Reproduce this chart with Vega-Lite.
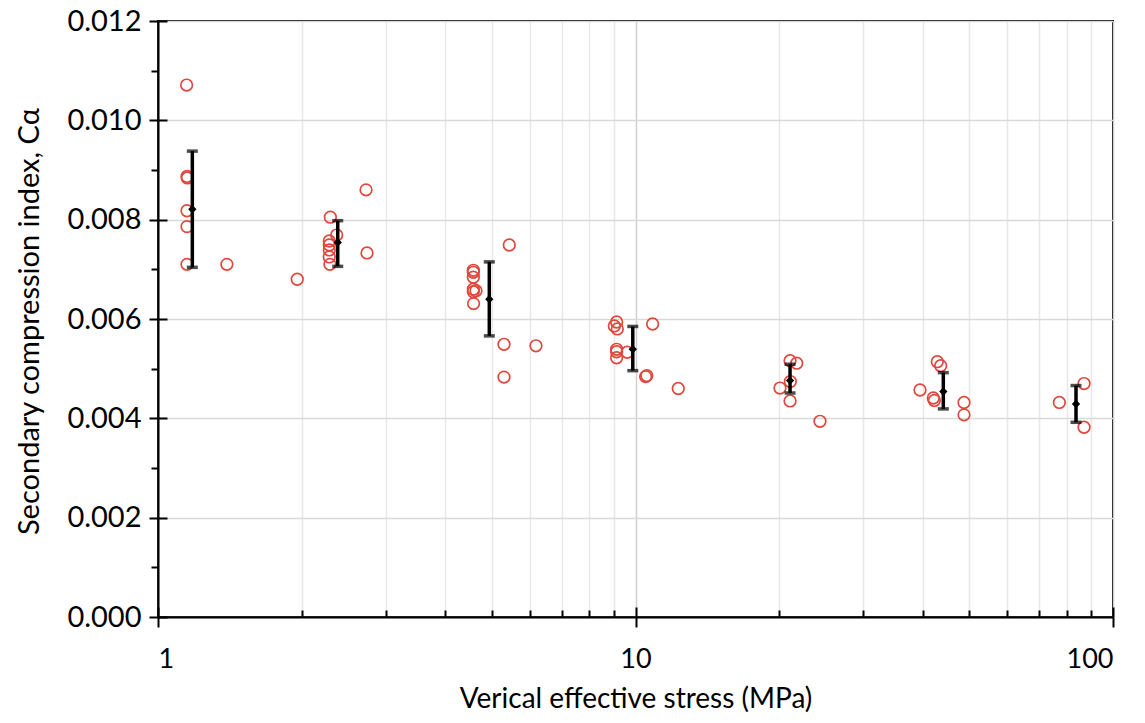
{
  "$schema": "https://vega.github.io/schema/vega-lite/v6.json",
  "width": 955,
  "height": 596,
  "autosize": {"type": "none"},
  "padding": {"left": 158, "top": 21, "right": 32, "bottom": 106},
  "background": "white",
  "config": {
    "view": {"stroke": "black", "strokeWidth": 2},
    "axis": {
      "labelFont": "Lato",
      "titleFont": "Lato",
      "labelColor": "black",
      "titleColor": "black",
      "titleFontWeight": "normal",
      "domainColor": "black",
      "tickColor": "black",
      "tickWidth": 2,
      "domainWidth": 2
    }
  },
  "datasets": {
    "pts": [
      {"stress": 1.148, "ca": 0.01071},
      {"stress": 1.150, "ca": 0.00887},
      {"stress": 1.152, "ca": 0.00884},
      {"stress": 1.150, "ca": 0.00818},
      {"stress": 1.150, "ca": 0.00786},
      {"stress": 1.150, "ca": 0.00710},
      {"stress": 1.394, "ca": 0.00710},
      {"stress": 1.957, "ca": 0.00680},
      {"stress": 2.727, "ca": 0.00860},
      {"stress": 2.296, "ca": 0.00805},
      {"stress": 2.367, "ca": 0.00769},
      {"stress": 2.284, "ca": 0.00757},
      {"stress": 2.284, "ca": 0.00749},
      {"stress": 2.284, "ca": 0.00739},
      {"stress": 2.284, "ca": 0.00725},
      {"stress": 2.291, "ca": 0.00710},
      {"stress": 2.740, "ca": 0.00733},
      {"stress": 5.441, "ca": 0.00749},
      {"stress": 4.575, "ca": 0.00698},
      {"stress": 4.575, "ca": 0.00694},
      {"stress": 4.575, "ca": 0.00684},
      {"stress": 4.575, "ca": 0.00660},
      {"stress": 4.634, "ca": 0.00657},
      {"stress": 4.575, "ca": 0.00655},
      {"stress": 4.580, "ca": 0.00631},
      {"stress": 5.304, "ca": 0.00549},
      {"stress": 6.188, "ca": 0.00546},
      {"stress": 5.304, "ca": 0.00483},
      {"stress": 9.13, "ca": 0.00594},
      {"stress": 9.03, "ca": 0.00586},
      {"stress": 9.16, "ca": 0.00580},
      {"stress": 9.13, "ca": 0.00539},
      {"stress": 9.13, "ca": 0.00534},
      {"stress": 9.13, "ca": 0.00522},
      {"stress": 9.61, "ca": 0.00533},
      {"stress": 10.86, "ca": 0.00590},
      {"stress": 10.56, "ca": 0.00486},
      {"stress": 10.50, "ca": 0.00484},
      {"stress": 12.29, "ca": 0.00460},
      {"stress": 21.07, "ca": 0.00516},
      {"stress": 21.76, "ca": 0.00511},
      {"stress": 21.10, "ca": 0.00474},
      {"stress": 20.07, "ca": 0.00461},
      {"stress": 21.07, "ca": 0.00435},
      {"stress": 24.34, "ca": 0.00394},
      {"stress": 42.86, "ca": 0.00514},
      {"stress": 43.56, "ca": 0.00506},
      {"stress": 39.43, "ca": 0.00457},
      {"stress": 42.04, "ca": 0.00441},
      {"stress": 42.25, "ca": 0.00436},
      {"stress": 48.75, "ca": 0.00432},
      {"stress": 48.75, "ca": 0.00407},
      {"stress": 86.97, "ca": 0.00470},
      {"stress": 77.2, "ca": 0.00432},
      {"stress": 86.97, "ca": 0.00382}
    ],
    "eb": [
      {"stress": 1.180, "mean": 0.00821, "lo": 0.00704, "hi": 0.00938},
      {"stress": 2.379, "mean": 0.00754, "lo": 0.00706, "hi": 0.00798},
      {"stress": 4.941, "mean": 0.00640, "lo": 0.00566, "hi": 0.00715},
      {"stress": 9.87, "mean": 0.00539, "lo": 0.00496, "hi": 0.00585},
      {"stress": 21.07, "mean": 0.00476, "lo": 0.00451, "hi": 0.00509},
      {"stress": 44.12, "mean": 0.00454, "lo": 0.00419, "hi": 0.00492},
      {"stress": 83.66, "mean": 0.00429, "lo": 0.00392, "hi": 0.00466}
    ]
  },
  "resolve": {"axis": {"x": "independent", "y": "independent"}},
  "layer": [
    {
      "data": {"name": "pts"},
      "mark": {"type": "point", "shape": "circle", "filled": false, "stroke": "#E0473C", "strokeWidth": 1.7, "size": 135, "opacity": 1},
      "encoding": {
        "x": {
          "field": "stress", "type": "quantitative",
          "scale": {"type": "log", "domain": [1, 100], "nice": false},
          "axis": {
            "orient": "bottom",
            "values": [1, 10, 100],
            "format": "d",
            "title": "Verical effective stress (MPa)",
            "titleFontSize": 28,
            "titleBaseline": "alphabetic",
            "titleY": 90,
            "labelFontSize": 27,
            "labelBaseline": "alphabetic",
            "labelPadding": 40,
            "tickSize": 10,
            "grid": false,
            "domain": true
          }
        },
        "y": {
          "field": "ca", "type": "quantitative",
          "scale": {"domain": [0, 0.012], "nice": false, "zero": true},
          "axis": {
            "orient": "left",
            "values": [0, 0.002, 0.004, 0.006, 0.008, 0.01, 0.012],
            "format": ".3f",
            "title": "Secondary compression index, Cα",
            "titleFontSize": 29,
            "titleBaseline": "bottom",
            "titleX": -114,
            "titleY": 300,
            "labelFontSize": 29,
            "labelPadding": 8,
            "tickSize": 9,
            "grid": true,
            "gridColor": "#d9d9d9",
            "gridWidth": 1.5,
            "domain": true
          }
        }
      }
    },
    {
      "data": {"name": "eb"},
      "mark": {"type": "rule", "color": "black", "strokeWidth": 3.5},
      "encoding": {
        "x": {
          "field": "stress", "type": "quantitative",
          "axis": {
            "orient": "bottom",
            "values": [2, 3, 4, 5, 6, 7, 8, 9, 20, 30, 40, 50, 60, 70, 80, 90],
            "labels": false, "domain": false, "title": null,
            "tickSize": -7,
            "grid": true, "gridColor": "#e8e8e8", "gridWidth": 1.5
          }
        },
        "y": {
          "field": "lo", "type": "quantitative",
          "axis": {
            "orient": "left",
            "values": [0.001, 0.003, 0.005, 0.007, 0.009, 0.011],
            "labels": false, "domain": false, "title": null,
            "tickSize": 7, "grid": false
          }
        },
        "y2": {"field": "hi"}
      }
    },
    {
      "data": {"name": "eb"},
      "mark": {"type": "tick", "orient": "horizontal", "color": "black", "size": 11, "thickness": 3.5},
      "encoding": {
        "x": {
          "field": "stress", "type": "quantitative",
          "axis": {
            "orient": "bottom",
            "values": [1, 10, 100],
            "labels": false, "domain": false, "title": null,
            "tickSize": -10,
            "grid": true, "gridColor": "#cfcfcf", "gridWidth": 1.5
          }
        },
        "y": {
          "field": "hi", "type": "quantitative",
          "axis": {
            "orient": "left",
            "values": [0, 0.002, 0.004, 0.006, 0.008, 0.01, 0.012],
            "labels": false, "domain": false, "title": null,
            "tickSize": -9, "grid": false
          }
        }
      }
    },
    {
      "data": {"name": "eb"},
      "mark": {"type": "tick", "orient": "horizontal", "color": "black", "size": 11, "thickness": 3.5},
      "encoding": {
        "x": {"field": "stress", "type": "quantitative", "axis": null},
        "y": {"field": "lo", "type": "quantitative", "axis": null}
      }
    },
    {
      "data": {"name": "eb"},
      "mark": {"type": "point", "shape": "diamond", "filled": true, "color": "black", "size": 70, "opacity": 1},
      "encoding": {
        "x": {"field": "stress", "type": "quantitative", "axis": null},
        "y": {"field": "mean", "type": "quantitative", "axis": null}
      }
    }
  ]
}
